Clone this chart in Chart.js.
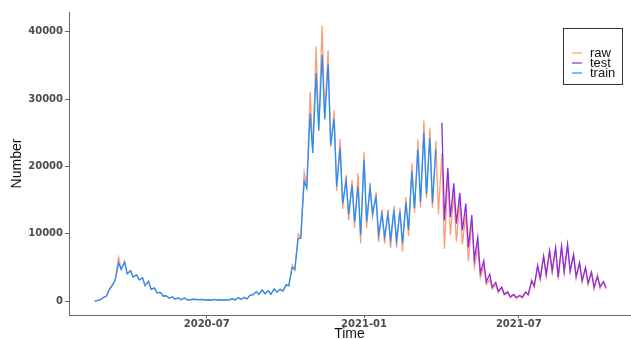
<!DOCTYPE html>
<html>
<head>
<meta charset="utf-8">
<script src="https://cdn.jsdelivr.net/npm/chart.js@4/dist/chart.umd.min.js"></script>
<style>
  html, body { margin: 0; padding: 0; background: #fff; }
  #wrap { width: 631px; height: 339px; }
</style>
</head>
<body>
<div id="wrap"><canvas id="chart" width="631" height="339"></canvas></div>
<script>
// weekly samples: Monday (low) and Friday (high) of each week, starting the week of 2020-02-17
const weekStart = '2020-02-17';

const rawLow = [null, 90, 560, 1800, 3230, 4790, 4050, 3600, 3150, 2260,
  1740, 1220, 740, 450, 300, 180, 200, 300, 220, 140,
  140, 170, 130, 170, 160, 260, 320, 950, 1000, 1110,
  1010, 1350, 1490, 2260, 4620, 9340, 17010, 22250, 25270, 27350,
  22930, 16380, 13720, 12030, 10870, 8590, 10800, 12550, 8820, 8560,
  7930, 7970, 7350, 9630, 13110, 13900, 15270, 13850, 12920, 7770,
  9790, 8860, 8440, 5950, 5080, 3460, 2490, 1820, 1270, 910,
  500, 390, 480, 890, 2070, 3120, 3690, 4200, 3200, 4170,
  4260, 3360, 2800, 2410, 1770, 1900, 1800];
const rawHigh = [20, 240, 780, 2550, 6560, 5960, 4590, 3950, 3490, 3020,
  1970, 1330, 790, 650, 520, 520, 200, 250, 260, 220,
  280, 230, 250, 380, 550, 570, 950, 1460, 1730, 1600,
  1910, 1790, 2500, 5370, 10010, 19140, 31080, 37810, 40900, 37240,
  28350, 24100, 18730, 17990, 19040, 22210, 17530, 16150, 13630, 13570,
  14220, 13910, 15480, 20500, 24040, 26820, 25740, 23840, 21930, 18940,
  15940, 14760, 12970, 11810, 8090, 5220, 3220, 2440, 1900, 1200,
  920, 810, 1390, 3200, 5300, 6600, 7400, 7900, 8100, 8300,
  6900, 5700, 4900, 4300, 4000, 2900, null];

const trainFirstWeek = 0;
const trainLow = [null, 100, 540, 1700, 3100, 4700, 4100, 3600, 3200, 2350,
  1800, 1250, 780, 480, 330, 220, 210, 290, 230, 160,
  150, 180, 150, 180, 190, 280, 350, 950, 1020, 1120,
  1050, 1350, 1500, 2300, 4700, 9400, 16800, 22000, 25400, 27000,
  23200, 17000, 14500, 12900, 11800, 9800, 11800, 13000, 9900, 9600,
  9100, 9000, 8600, 10600, 13800, 14700, 15900, 14600];
const trainHigh = [20, 230, 760, 2400, 5700, 5800, 4500, 3900, 3450, 2950,
  1950, 1320, 800, 640, 500, 480, 220, 260, 260, 220,
  270, 230, 250, 360, 520, 560, 900, 1400, 1650, 1550,
  1800, 1750, 2400, 5000, 9300, 17800, 27900, 33900, 36600, 35200,
  27000, 22800, 17900, 17200, 17000, 21000, 16800, 15400, 13000, 13000,
  13500, 13300, 14700, 19300, 22500, 25000, 24200, 22500];

const testFirstWeek = 58;
const testLow = [null, 12000, 12500, 11500, 10500, 8000, 6200, 4200, 2900, 2100,
  1500, 1050, 650, 550, 620, 1000, 2300, 3400, 4000, 4500,
  3600, 4400, 4500, 3700, 3100, 2700, 2100, 2200, 2000];
const testHigh = [26500, 19800, 17500, 16100, 14500, 12800, 9500, 6000, 4000, 2800,
  2100, 1400, 1000, 850, 1350, 3000, 5300, 6700, 7500, 7900,
  8200, 8400, 6900, 5700, 5000, 4300, 3600, 2900, null];

const xTickDates = ['2020-07-01', '2021-01-01', '2021-07-01'];
const yTicks = [0, 10000, 20000, 30000, 40000];

const colors = { raw: '#ff9c78', test: '#8a2be2', train: '#1e90ff' };

// day number counted from 2020-01-01
function dayNum(s) {
  const p = s.split('-').map(Number);
  return (Date.UTC(p[0], p[1] - 1, p[2]) - Date.UTC(2020, 0, 1)) / 86400000;
}
function dayLabel(d) {
  const dt = new Date(Date.UTC(2020, 0, 1) + d * 86400000);
  return dt.getUTCFullYear() + '-' + String(dt.getUTCMonth() + 1).padStart(2, '0');
}
const startDay = dayNum(weekStart);

function weekPoints(firstWeek, lows, highs) {
  const pts = [];
  lows.forEach((lo, i) => {
    const d = startDay + 7 * (firstWeek + i);
    if (lo !== null) pts.push({ x: d, y: lo });
    if (highs[i] !== null) pts.push({ x: d + 4, y: highs[i] });
  });
  return pts;
}

const boxLegend = {
  id: 'boxLegend',
  afterDraw(chart) {
    const ctx = chart.ctx;
    ctx.save();
    ctx.fillStyle = '#fff';
    ctx.strokeStyle = '#333';
    ctx.lineWidth = 1;
    ctx.fillRect(563.5, 28.5, 59, 56);
    ctx.strokeRect(563.5, 28.5, 59, 56);
    ctx.font = '13px "Liberation Sans", Arial, sans-serif';
    ctx.textBaseline = 'middle';
    chart.data.datasets.forEach((ds, i) => {
      const y = 53 + i * 10;
      ctx.strokeStyle = ds.borderColor;
      ctx.lineWidth = 1.2;
      ctx.beginPath();
      ctx.moveTo(572, y);
      ctx.lineTo(582, y);
      ctx.stroke();
      ctx.fillStyle = '#111';
      ctx.fillText(ds.label, 590, y);
    });
    ctx.restore();
  }
};

new Chart(document.getElementById('chart').getContext('2d'), {
  type: 'line',
  data: {
    datasets: [
      { label: 'raw', data: weekPoints(0, rawLow, rawHigh), borderColor: colors.raw, order: 3 },
      { label: 'test', data: weekPoints(testFirstWeek, testLow, testHigh), borderColor: colors.test, order: 2 },
      { label: 'train', data: weekPoints(trainFirstWeek, trainLow, trainHigh), borderColor: colors.train, order: 1 }
    ]
  },
  options: {
    responsive: false,
    animation: false,
    devicePixelRatio: 1,
    layout: { padding: { top: 12, right: 1, left: 0, bottom: 0 } },
    elements: {
      line: { borderWidth: 1.3, tension: 0, fill: false },
      point: { radius: 0, hoverRadius: 0 }
    },
    plugins: {
      legend: { display: false },
      tooltip: { enabled: false }
    },
    scales: {
      x: {
        type: 'linear',
        min: 21,
        max: 677,
        afterFit: (scale) => { scale.height = 24; },
        afterBuildTicks: (scale) => { scale.ticks = xTickDates.map(s => ({ value: dayNum(s) })); },
        border: { display: true, color: '#666', width: 1 },
        grid: { display: true, drawOnChartArea: false, drawTicks: true, tickLength: 3, color: '#666' },
        ticks: {
          padding: 0,
          maxRotation: 0,
          color: '#4d4d4d',
          font: { family: '"DejaVu Sans"', size: 10, weight: 'bold' },
          callback: (v) => dayLabel(v)
        },
        title: {
          display: true,
          text: 'Time',
          color: '#111',
          padding: { top: 0, bottom: -2 },
          font: { family: '"Liberation Sans"', size: 14, lineHeight: 1 }
        }
      },
      y: {
        min: -2045,
        max: 42947,
        afterFit: (scale) => { scale.width = 69; },
        afterBuildTicks: (scale) => { scale.ticks = yTicks.map(v => ({ value: v })); },
        border: { display: true, color: '#666', width: 1 },
        grid: { display: true, drawOnChartArea: false, drawTicks: true, tickLength: 4, color: '#666' },
        ticks: {
          padding: 2,
          color: '#4d4d4d',
          font: { family: '"DejaVu Sans"', size: 10, weight: 'bold' },
          callback: (v) => String(v)
        },
        title: {
          display: true,
          text: 'Number',
          color: '#111',
          padding: { top: 9, bottom: 0 },
          font: { family: '"Liberation Sans"', size: 14, lineHeight: 1.2 }
        }
      }
    }
  },
  plugins: [boxLegend]
});
</script>
</body>
</html>
